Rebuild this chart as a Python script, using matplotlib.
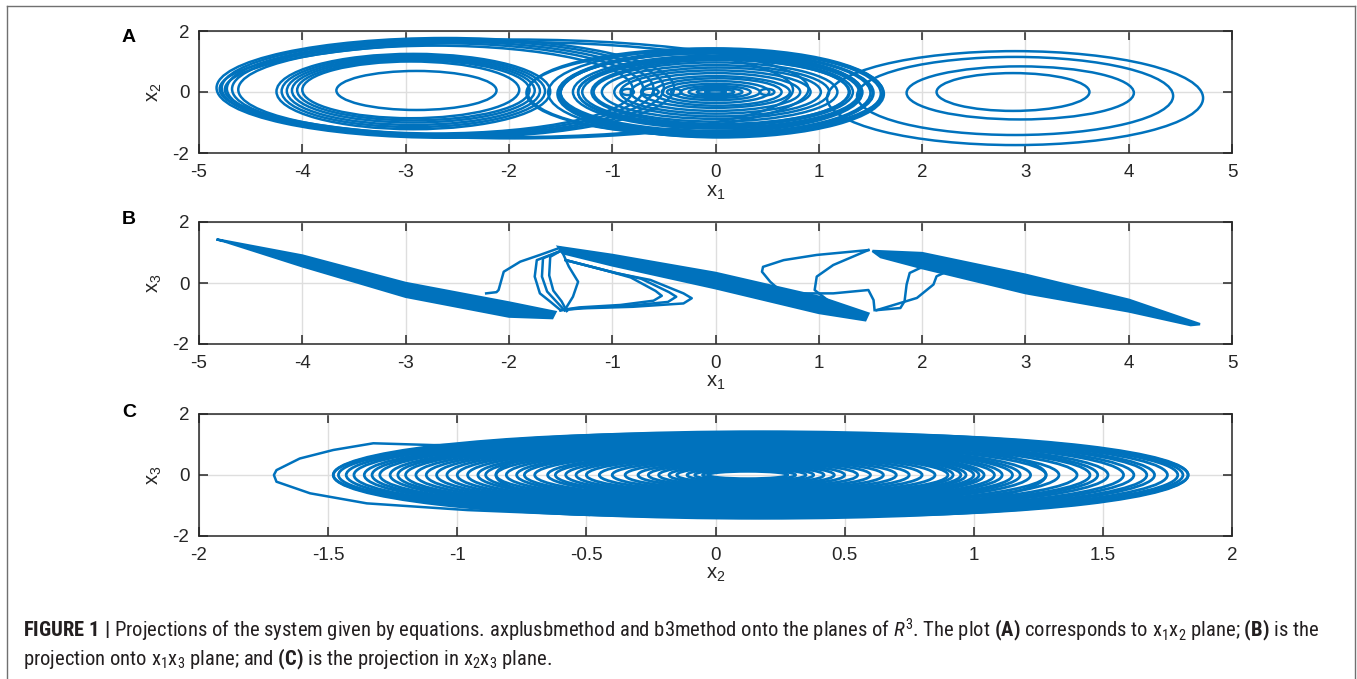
import matplotlib
matplotlib.use('Agg')
import matplotlib.pyplot as plt
from matplotlib.patches import Ellipse
from matplotlib.lines import Line2D
from matplotlib import font_manager

# ---------------- data ----------------
# panel A (x1-x2): loops given as centre x, centre y, half width, half height
a_cx = [-2.615, -2.64, -2.665, -2.69, -2.71, -1.95, -2.00,
        -2.925, -2.925, -2.925, -2.925, -2.925, -2.95, -2.895,
        -0.10, 0.00, 0.05, 0.00, -0.05, 0.02, 0.00, 0.05, 0.00, 0.00, 0.02,
        0.00, 0.00, 0.00, 0.02, 0.00, 0.00, 0.00, 0.00, 0.00, 0.00,
        -0.15, 0.05, 0.00, -0.05, 0.03, 0.00,
        -0.63, -0.40, 0.50, -0.85,
        2.88, 2.95, 2.90, 2.90]
a_cy = [0.135, 0.125, 0.11, 0.10, 0.08, 0.10, 0.08,
        0.015, 0.025, 0.035, 0.05, 0.06, 0.07, 0.05,
        0.00, -0.02, -0.05, -0.03, 0.00, 0.00, 0.00, 0.00, 0.00, 0.00, 0.00,
        0.00, 0.00, 0.00, 0.00, 0.00, 0.00, 0.00, 0.00, 0.00, 0.00,
        -0.03, -0.06, -0.04, -0.02, -0.01, 0.00,
        0.00, 0.00, 0.00, 0.00,
        0.00, -0.03, -0.13, -0.20]
a_rx = [2.215, 2.14, 2.065, 1.99, 1.91, 2.85, 2.75,
        1.325, 1.275, 1.225, 1.175, 1.125, 1.05, 0.775,
        1.72, 1.62, 1.55, 1.50, 1.45, 1.40, 1.33, 1.25, 1.18, 1.10, 1.00,
        0.92, 0.82, 0.72, 0.62, 0.52, 0.43, 0.34, 0.26, 0.18, 0.10,
        1.68, 1.58, 1.52, 1.47, 1.36, 1.29,
        0.08, 0.07, 0.07, 0.06,
        0.74, 1.10, 1.53, 1.82]
a_ry = [1.635, 1.595, 1.55, 1.50, 1.44, 1.62, 1.56,
        1.235, 1.175, 1.115, 1.05, 0.99, 0.93, 0.64,
        1.42, 1.45, 1.40, 1.33, 1.27, 1.20, 1.12, 1.05, 0.97, 0.88, 0.80,
        0.71, 0.62, 0.52, 0.45, 0.36, 0.27, 0.20, 0.14, 0.09, 0.05,
        1.38, 1.43, 1.36, 1.30, 1.16, 1.08,
        0.11, 0.10, 0.10, 0.10,
        0.62, 0.87, 1.28, 1.54]

# panel B (x1-x3): the three slanted bands (outline of each band)
b_left_x = [-4.83, -4.0, -3.0, -2.0, -1.55, -1.58, -2.0, -3.0, -4.0, -4.75]
b_left_y = [1.43, 0.90, 0.0, -0.64, -0.95, -1.15, -1.10, -0.45, 0.55, 1.36]
b_mid_x = [-1.52, -1.0, 0.0, 1.0, 1.48, 1.45, 1.0, 0.0, -1.0, -1.48]
b_mid_y = [1.18, 0.92, 0.33, -0.45, -1.0, -1.22, -0.98, -0.17, 0.58, 0.98]
b_right_x = [1.52, 2.0, 3.0, 4.0, 4.69, 4.6, 4.0, 3.0, 2.0, 1.6]
b_right_y = [1.05, 0.98, 0.27, -0.55, -1.35, -1.38, -0.93, -0.33, 0.49, 0.85]

# panel B: transition curves between the bands
b_curves_x = [
    [-2.22, -2.12, -2.10, -2.05, -1.89, -1.70, -1.51],
    [-1.50, -1.73, -1.75, -1.70, -1.60, -1.50],
    [-1.50, -1.67, -1.68, -1.63, -1.54, -1.46],
    [-1.50, -1.60, -1.61, -1.57, -1.49, -1.44],
    [-1.50, -1.42, -1.33, -1.38, -1.46],
    [-1.45, -0.96, -0.63, -0.31, -0.23, -0.31, -0.80, -1.28, -1.50],
    [-1.45, -1.0, -0.72, -0.45, -0.38, -0.46, -0.85, -1.30, -1.50],
    [-1.45, -1.05, -0.82, -0.58, -0.52, -0.60, -0.92, -1.32, -1.50],
    [1.48, 0.98, 0.66, 0.46, 0.45, 0.53, 0.62, 0.82, 1.14, 1.48, 1.53, 1.54],
    [1.48, 1.14, 0.98, 0.96, 1.10, 1.40],
    [1.56, 1.79, 1.83, 1.85, 1.88, 1.98, 2.11],
    [1.56, 1.95, 2.11, 2.14, 2.21, 2.30],
]
b_curves_y = [
    [-0.34, -0.30, -0.23, 0.37, 0.70, 0.92, 1.15],
    [1.05, 0.75, 0.21, -0.34, -0.61, -0.89],
    [1.05, 0.81, 0.21, -0.28, -0.61, -0.90],
    [1.05, 0.86, 0.25, -0.25, -0.60, -0.92],
    [1.14, 0.54, 0.04, -0.45, -0.89],
    [0.75, 0.32, 0.10, -0.34, -0.50, -0.67, -0.78, -0.83, -0.89],
    [0.75, 0.36, 0.14, -0.30, -0.45, -0.62, -0.75, -0.82, -0.89],
    [0.75, 0.40, 0.18, -0.26, -0.42, -0.58, -0.72, -0.80, -0.89],
    [1.08, 0.92, 0.75, 0.53, 0.37, 0.04, -0.23, -0.34, -0.34, -0.23, -0.56, -0.89],
    [1.08, 0.59, 0.21, -0.23, -0.60, -0.95],
    [-0.89, -0.82, -0.60, -0.05, 0.33, 0.49, 0.55],
    [-0.89, -0.49, -0.05, 0.22, 0.33, 0.38],
]

# panel C (x2-x3): loops given by left tip, right tip and half height
c_left = [-1.48, -0.85, -1.48, -1.46, -1.43, -1.40, -1.36, -1.33, -1.30, -1.26, -1.23, -1.20,
          -1.16, -1.12, -1.08, -1.04, -1.00, -0.96, -0.92, -0.89, -0.85, -0.81,
          -0.77, -0.74, -0.70, -0.65, -0.62, -0.58, -0.54, -0.50, -0.45, -0.40,
          -0.35, -0.30, -0.26, -0.22, -0.18, -0.15, -0.11, -0.08, -0.05, -0.03]
c_right = [1.28, 1.83, 1.83, 1.81, 1.79, 1.75, 1.70, 1.67, 1.62, 1.58, 1.52, 1.48,
           1.45, 1.40, 1.33, 1.28, 1.22, 1.18, 1.15, 1.11, 1.08, 1.04,
           1.02, 1.00, 0.97, 0.95, 0.92, 0.90, 0.85, 0.80, 0.75, 0.70,
           0.65, 0.60, 0.55, 0.50, 0.46, 0.42, 0.38, 0.35, 0.31, 0.28]
c_ry = [1.36, 1.34, 1.42, 1.39, 1.36, 1.33, 1.30, 1.27, 1.24, 1.21, 1.18, 1.15,
        1.12, 1.09, 1.06, 1.03, 1.00, 0.97, 0.94, 0.91, 0.88, 0.85,
        0.82, 0.79, 0.76, 0.73, 0.70, 0.67, 0.64, 0.60, 0.56, 0.52,
        0.48, 0.44, 0.40, 0.36, 0.32, 0.28, 0.24, 0.20, 0.16, 0.12]
# the single wide outer loop on the left of panel C
c_out_x = [-0.49, -0.96, -1.35, -1.57, -1.70, -1.71, -1.70, -1.61, -1.48, -1.325, -1.09, -0.80]
c_out_y = [-1.31, -1.15, -0.93, -0.60, -0.22, 0.0, 0.16, 0.54, 0.82, 1.04, 0.98, 1.02]

x_ticks_ab = [-5, -4, -3, -2, -1, 0, 1, 2, 3, 4, 5]
x_ticks_c = [-2, -1.5, -1, -0.5, 0, 0.5, 1, 1.5, 2]
x_ticklabels_c = ['-2', '-1.5', '-1', '-0.5', '0', '0.5', '1', '1.5', '2']
y_ticks = [-2, 0, 2]

# ---------------- style ----------------
BLUE = '#0072BD'
DARK = '#262626'
LW = 1.8

# condensed face for the caption (journal style), first one installed
installed = {f.name for f in font_manager.fontManager.ttflist}
cap_font = 'Liberation Sans'
for name in ['Liberation Sans Narrow', 'Roboto Condensed', 'Archivo Narrow',
             'Fira Sans Condensed', 'IBM Plex Sans Condensed', 'Barlow Semi Condensed']:
    if name in installed:
        cap_font = name
        break

plt.rcParams['font.family'] = ['Liberation Sans', 'DejaVu Sans']
plt.rcParams['axes.unicode_minus'] = False
plt.rcParams['mathtext.fontset'] = 'custom'
plt.rcParams['mathtext.rm'] = cap_font
plt.rcParams['mathtext.it'] = cap_font + ':italic'
plt.rcParams['mathtext.bf'] = cap_font + ':bold'
plt.rcParams['mathtext.default'] = 'regular'

fig = plt.figure(figsize=(13.57, 6.79), dpi=100)

W, H = 1357, 679
def box(left, top, right, bottom):
    return [left / W, 1 - bottom / H, (right - left) / W, (bottom - top) / H]

axA = fig.add_axes(box(199, 31, 1232, 153))
axB = fig.add_axes(box(199, 222, 1232, 344))
axC = fig.add_axes(box(199, 414, 1232, 536))


def style(ax, xlim, xticks, xlabels, xl, yl):
    ax.set_xlim(xlim)
    ax.set_ylim(-2, 2)
    ax.set_xticks(xticks)
    ax.set_xticklabels(xlabels)
    ax.set_yticks(y_ticks)
    ax.grid(True, color='#dedede', lw=1.0)
    ax.set_axisbelow(True)
    ax.tick_params(direction='in', top=True, right=True, length=6.5, width=1.1,
                   colors=DARK, labelsize=13.5)
    ax.tick_params(axis='x', pad=8)
    ax.tick_params(axis='y', pad=7)
    for s in ax.spines.values():
        s.set_color(DARK)
        s.set_linewidth(1.1)
    ax.set_xlabel(xl, fontsize=14.5, color=DARK, labelpad=1)
    ax.set_ylabel(yl, fontsize=14.5, color=DARK, labelpad=6)


# panel A
for cx, cy, rx, ry in zip(a_cx, a_cy, a_rx, a_ry):
    axA.add_patch(Ellipse((cx, cy), 2 * rx, 2 * ry, fill=False, ec=BLUE, lw=LW))
style(axA, (-5, 5), x_ticks_ab, [str(t) for t in x_ticks_ab], 'x$_{1}$', 'x$_{2}$')

# panel B
for bx, by in [(b_left_x, b_left_y), (b_mid_x, b_mid_y), (b_right_x, b_right_y)]:
    axB.fill(bx, by, color=BLUE, lw=LW)
for cx, cy in zip(b_curves_x, b_curves_y):
    axB.plot(cx, cy, color=BLUE, lw=LW)
style(axB, (-5, 5), x_ticks_ab, [str(t) for t in x_ticks_ab], 'x$_{1}$', 'x$_{3}$')

# panel C
for l, r, ry in zip(c_left, c_right, c_ry):
    axC.add_patch(Ellipse(((l + r) / 2, 0), r - l, 2 * ry, fill=False, ec=BLUE, lw=2.0))
axC.plot(c_out_x, c_out_y, color=BLUE, lw=LW)
style(axC, (-2, 2), x_ticks_c, x_ticklabels_c, 'x$_{2}$', 'x$_{3}$')

# panel letters
for lab, yp in [('A', 37), ('B', 220), ('C', 413)]:
    fig.text(122 / W, 1 - yp / H, lab, fontsize=14, fontweight='bold', va='center', ha='left')

# frame around figure + caption
for xs, ys in [([7, 7], [679, 6]), ([7, 1355], [6, 6]), ([1355, 1355], [6, 679])]:
    fig.add_artist(Line2D([x / W for x in xs], [1 - y / H for y in ys], color='#707070', lw=1.0))

line1 = (r'$\mathbf{FIGURE\ 1\ |}$ Projections of the system given by equations. axplusbmethod and '
         r'b3method onto the planes of $\mathit{R}^{3}$. The plot $\mathbf{(A)}$ corresponds to '
         r'x$_{1}$x$_{2}$ plane; $\mathbf{(B)}$ is the')
line2 = r'projection onto x$_{1}$x$_{3}$ plane; and $\mathbf{(C)}$ is the projection in x$_{2}$x$_{3}$ plane.'

t1 = fig.text(23 / W, 1 - 637 / H, line1, fontsize=11, family=cap_font, va='baseline', color='#231f20')
t2 = fig.text(23 / W, 1 - 665 / H, line2, fontsize=11, family=cap_font, va='baseline', color='#231f20')
r = fig.canvas.get_renderer()
wpx = t1.get_window_extent(renderer=r).width
size = 11 * 1295 / wpx
t1.set_fontsize(size)
t2.set_fontsize(size)

fig.savefig('out.png', dpi=100)
